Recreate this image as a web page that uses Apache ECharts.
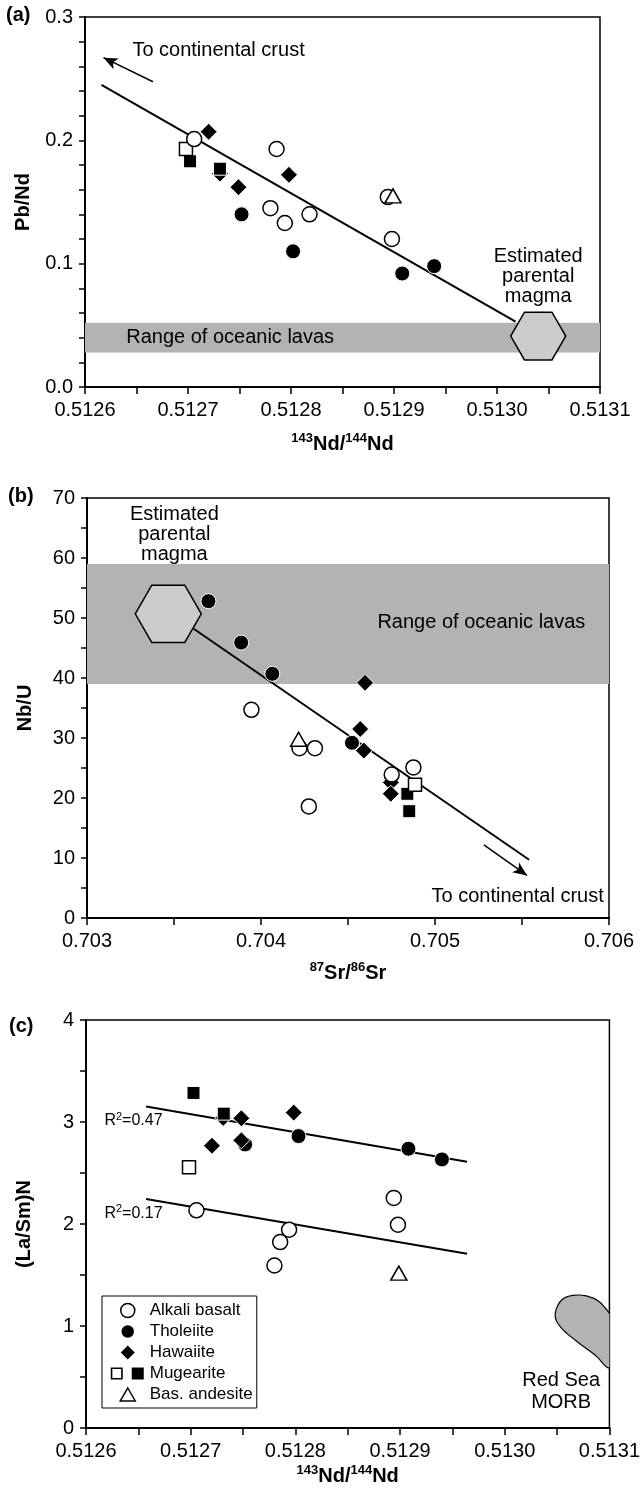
<!DOCTYPE html>
<html>
<head>
<meta charset="utf-8">
<script src="https://cdn.jsdelivr.net/npm/echarts@6/dist/echarts.min.js"></script>
<style>
  html, body { margin: 0; padding: 0; background: #fff; }
  #chart { width: 643px; height: 1497px; }
</style>
</head>
<body>
<div id="chart"></div>
<script>
// (a) Pb/Nd vs 143Nd/144Nd
const aAlkali = [[0.512706, 0.201], [0.512786, 0.193], [0.512780, 0.145], [0.512794, 0.133], [0.512818, 0.140], [0.512894, 0.154], [0.512898, 0.120]];
const aTholeiite = [[0.512752, 0.140], [0.512802, 0.110], [0.512908, 0.092], [0.512939, 0.098]];
const aHawaiite = [[0.512720, 0.207], [0.512798, 0.172], [0.512749, 0.162], [0.512731, 0.173]];
const aMugOpen = [[0.512698, 0.193]];
const aMugFilled = [[0.512702, 0.183], [0.512731, 0.177]];
const aBasAndesite = [[0.512899, 0.155]];
const aTrend = [[0.512616, 0.245], [0.513018, 0.053]];
const aArrow = [[0.512666, 0.2475], [0.512618, 0.267]];
const aBand = [0.028, 0.052];
const aParent = [[0.51304, 0.0413]];

// (b) Nb/U vs 87Sr/86Sr
const bAlkali = [[0.703945, 34.7], [0.704221, 28.3], [0.704310, 28.3], [0.704275, 18.6], [0.704751, 23.9], [0.704876, 25.1]];
const bTholeiite = [[0.703698, 52.8], [0.703886, 45.9], [0.704065, 40.7], [0.704523, 29.2]];
const bHawaiite = [[0.704598, 39.2], [0.704570, 31.5], [0.704591, 27.9], [0.704746, 22.6], [0.704746, 20.7]];
const bMugOpen = [[0.704885, 22.2]];
const bMugFilled = [[0.704841, 20.7], [0.704852, 17.8]];
const bBasAndesite = [[0.704216, 29.8]];
const bTrend = [[0.703613, 48.2], [0.705541, 9.7]];
const bArrow = [[0.705281, 12.2], [0.705529, 7.1]];
const bBand = [39, 59];
const bParent = [[0.703467, 50.7]];

// (c) (La/Sm)N vs 143Nd/144Nd
const cAlkali = [[0.5127055, 2.134], [0.512794, 1.944], [0.5127855, 1.823], [0.512780, 1.593], [0.512894, 2.256], [0.512898, 1.993]];
const cTholeiite = [[0.512752, 2.78], [0.512803, 2.862], [0.512908, 2.738], [0.51294, 2.633]];
const cHawaiite = [[0.512731, 3.04], [0.5127484, 3.036], [0.5127984, 3.092], [0.5127203, 2.767], [0.5127484, 2.82]];
const cMugOpen = [[0.5126984, 2.557]];
const cMugFilled = [[0.5127027, 3.285], [0.5127316, 3.082]];
const cBasAndesite = [[0.5128988, 1.518]];
const cTrendHigh = [[0.5126574, 3.151], [0.512964, 2.610]];
const cTrendLow = [[0.5126574, 2.246], [0.512964, 1.708]];
const cMorb = [[0.51312, 0.85], [0.5131, 1.125], [0.51309, 1.24], [0.513078, 1.295], [0.513065, 1.30], [0.513055, 1.26],
  [0.513049, 1.16], [0.513049, 1.06], [0.513056, 0.96], [0.513070, 0.84], [0.513088, 0.70], [0.5131, 0.59]];

// annotation texts, anchored in data units
const aNotes = [
  { name: 'To continental crust', value: [0.512646, 0.273], align: 'left' },
  { name: 'Range of oceanic lavas', value: [0.51264, 0.0405], align: 'left' },
  { name: 'Estimated\nparental\nmagma', value: [0.51304, 0.090], align: 'center' }
];
const bNotes = [
  { name: 'Estimated\nparental\nmagma', value: [0.703502, 63.9], align: 'center' },
  { name: 'Range of oceanic lavas', value: [0.704669, 49.3], align: 'left' },
  { name: 'To continental crust', value: [0.70597, 3.6], align: 'right' }
];
const cNotes = [
  { name: 'R{sup|2}=0.47', value: [0.5126176, 3.01], align: 'left', small: true },
  { name: 'R{sup|2}=0.17', value: [0.5126176, 2.10], align: 'left', small: true },
  { name: 'Red Sea\nMORB', value: [0.5130539, 0.36], align: 'center', lh: 22 }
];

const FONT = 'Liberation Sans, Arial, Helvetica, sans-serif';
const chart = echarts.init(document.getElementById('chart'));

const grids = [
  { left: 85, top: 17, width: 515, height: 370 },
  { left: 87, top: 498, width: 522, height: 420 },
  { left: 86, top: 1020, width: 524, height: 408 }
];

const supRich = {
  b: { fontSize: 20, fontWeight: 'bold', fontFamily: FONT, color: '#000', lineHeight: 24 },
  s: { fontSize: 13, fontWeight: 'bold', fontFamily: FONT, color: '#000', lineHeight: 14, verticalAlign: 'top' }
};

function xAxis(gi, min, max, interval, dec, name, gap) {
  return {
    type: 'value', gridIndex: gi, min, max, interval,
    name, nameLocation: 'middle', nameGap: gap,
    nameTextStyle: { rich: supRich },
    axisLine: { onZero: false, lineStyle: { color: '#000', width: 2 } },
    axisTick: { length: 7, lineStyle: { width: 1.5 } },
    minorTick: { show: true, splitNumber: 2, length: 7, lineStyle: { color: '#000', width: 1.5 } },
    axisLabel: { color: '#000', fontSize: 20, fontFamily: FONT, margin: 13, formatter: v => v.toFixed(dec) },
    splitLine: { show: false }
  };
}
function yAxis(gi, min, max, interval, dec, minor, name) {
  return {
    type: 'value', gridIndex: gi, min, max, interval,
    name, nameLocation: 'middle', nameGap: 52, nameRotate: 90,
    nameTextStyle: { fontSize: 20, fontWeight: 'bold', fontFamily: FONT, color: '#000' },
    axisLine: { onZero: false, lineStyle: { color: '#000', width: 2 } },
    axisTick: { length: 6, lineStyle: { width: 1.5 } },
    minorTick: { show: true, splitNumber: minor, length: 6, lineStyle: { color: '#000', width: 1.5 } },
    axisLabel: { color: '#000', fontSize: 20, fontFamily: FONT, margin: 12, formatter: v => v.toFixed(dec) },
    splitLine: { show: false }
  };
}

function markers(name, data, gi, symbol, filled, z) {
  let size = 15;
  if (symbol === 'diamond') size = 17;
  if (symbol === 'rect') size = 13;
  if (symbol === 'triangle') size = [16, 14];
  return {
    type: 'scatter', name, data, xAxisIndex: gi, yAxisIndex: gi, symbol, symbolSize: size, z,
    itemStyle: filled
      ? { color: '#000', borderColor: '#fff', borderWidth: 1, opacity: 1 }
      : { color: '#fff', borderColor: '#000', borderWidth: 1.5, opacity: 1 },
    emphasis: { disabled: true }
  };
}

function rockSeries(gi, d) {
  return [
    markers('Tholeiite', d.tholeiite, gi, 'circle', true, 5),
    markers('Hawaiite', d.hawaiite, gi, 'diamond', true, 6),
    markers('Mugearite filled', d.mugFilled, gi, 'rect', true, 7),
    markers('Mugearite', d.mugOpen, gi, 'rect', false, 8),
    markers('Alkali basalt', d.alkali, gi, 'circle', false, 9),
    markers('Bas. andesite', d.basAnd, gi, 'triangle', false, 10)
  ];
}

function trend(gi, data, arrow) {
  const s = {
    type: 'line', data, xAxisIndex: gi, yAxisIndex: gi, symbol: 'none', z: 2,
    lineStyle: { color: '#000', width: 2 }, silent: true
  };
  if (arrow) {
    s.markLine = {
      silent: true, symbol: ['none', 'arrow'], symbolSize: [9, 14],
      lineStyle: { color: '#000', width: 1.5, type: 'solid' },
      label: { show: false },
      data: [[{ coord: arrow[0] }, { coord: arrow[1] }]]
    };
  }
  return s;
}

function band(gi, range) {
  return {
    type: 'line', data: [], xAxisIndex: gi, yAxisIndex: gi, z: 1, silent: true,
    markArea: { silent: true, itemStyle: { color: '#b3b3b3' }, data: [[{ yAxis: range[0] }, { yAxis: range[1] }]] }
  };
}

function hexagon(gi, data, radius) {
  return {
    type: 'custom', data, xAxisIndex: gi, yAxisIndex: gi, z: 4, silent: true,
    renderItem: (params, api) => {
      const c = api.coord([api.value(0), api.value(1)]);
      const pts = [];
      for (let i = 0; i < 6; i++) {
        const a = Math.PI / 3 * i;
        pts.push([c[0] + radius * Math.cos(a), c[1] + radius * Math.sin(a)]);
      }
      return { type: 'polygon', shape: { points: pts }, style: { fill: '#cccccc', stroke: '#000', lineWidth: 1.5 } };
    }
  };
}

function notes(gi, data) {
  return {
    type: 'scatter', xAxisIndex: gi, yAxisIndex: gi, symbolSize: 1, z: 12, silent: true,
    itemStyle: { color: 'rgba(0,0,0,0)', opacity: 1 },
    data: data.map(n => ({
      name: n.name, value: n.value,
      label: {
        align: n.align,
        fontSize: n.small ? 16 : 20,
        lineHeight: n.lh || 20
      }
    })),
    label: {
      show: true, position: 'inside', verticalAlign: 'middle', formatter: p => p.name,
      color: '#000', fontFamily: FONT,
      rich: { sup: { fontSize: 11, fontFamily: FONT, color: '#000', verticalAlign: 'top', lineHeight: 10 } }
    }
  };
}

const morbSeries = {
  type: 'custom', data: [0], xAxisIndex: 2, yAxisIndex: 2, z: 3, silent: true,
  renderItem: (params, api) => {
    const pts = cMorb.map(p => api.coord(p));
    const cs = params.coordSys;
    return {
      type: 'group',
      clipPath: { type: 'rect', shape: { x: cs.x, y: cs.y, width: cs.width, height: cs.height } },
      children: [{ type: 'polygon', shape: { points: pts, smooth: 0.3 }, style: { fill: '#b3b3b3', stroke: '#000', lineWidth: 1.2 } }]
    };
  }
};

// legend icons: the leading moves fix the icon box to 34x14 so the shapes keep their aspect
const iconMug = 'path://M0,0M34,14M0,1H12V13H0Z M1.6,2.6V11.4H10.4V2.6Z M21,1H33V13H21Z';
const iconDiamond = 'path://M0,0M34,14M17,-1L25,7L17,15L9,7Z';
const iconTriangle = 'path://M0,0M34,14M17,0.5L24.5,13.5L9.5,13.5Z';

const option = {
  animation: false,
  backgroundColor: '#fff',
  grid: grids.map(g => Object.assign({ show: true, borderColor: '#000', borderWidth: 1.5 }, g)),
  xAxis: [
    xAxis(0, 0.5126, 0.5131, 0.0001, 4, '{s|143}{b|Nd/}{s|144}{b|Nd}', 45),
    xAxis(1, 0.703, 0.706, 0.001, 3, '{s|87}{b|Sr/}{s|86}{b|Sr}', 43),
    xAxis(2, 0.5126, 0.5131, 0.0001, 4, '{s|143}{b|Nd/}{s|144}{b|Nd}', 36)
  ],
  yAxis: [
    yAxis(0, 0, 0.3, 0.1, 1, 5, 'Pb/Nd'),
    yAxis(1, 0, 70, 10, 0, 2, 'Nb/U'),
    yAxis(2, 0, 4, 1, 0, 2, '(La/Sm)N')
  ],
  legend: {
    orient: 'vertical', left: 102, top: 1296,
    padding: [6, 4, 5, 8], itemGap: 4, itemWidth: 34, itemHeight: 14,
    borderColor: '#000', borderWidth: 1, backgroundColor: '#fff',
    textStyle: { fontSize: 17, color: '#000', fontFamily: FONT, lineHeight: 17 },
    itemStyle: { borderWidth: 1.5 },
    selectedMode: false,
    data: [
      'Alkali basalt', 'Tholeiite',
      { name: 'Hawaiite', icon: iconDiamond, itemStyle: { color: '#000', borderWidth: 0 } },
      { name: 'Mugearite', icon: iconMug, itemStyle: { color: '#000', borderWidth: 0 } },
      { name: 'Bas. andesite', icon: iconTriangle }
    ]
  },
  graphic: [
    { type: 'text', left: 6, top: 5, style: { text: '(a)', font: 'bold 20px ' + FONT, fill: '#000' } },
    { type: 'text', left: 8, top: 486, style: { text: '(b)', font: 'bold 20px ' + FONT, fill: '#000' } },
    { type: 'text', left: 9, top: 1016, style: { text: '(c)', font: 'bold 20px ' + FONT, fill: '#000' } }
  ],
  series: [
    band(0, aBand),
    trend(0, aTrend, aArrow),
    hexagon(0, aParent, 27.5),
    ...rockSeries(0, { alkali: aAlkali, tholeiite: aTholeiite, hawaiite: aHawaiite, mugOpen: aMugOpen, mugFilled: aMugFilled, basAnd: aBasAndesite }),
    notes(0, aNotes),

    band(1, bBand),
    trend(1, bTrend, bArrow),
    hexagon(1, bParent, 33),
    ...rockSeries(1, { alkali: bAlkali, tholeiite: bTholeiite, hawaiite: bHawaiite, mugOpen: bMugOpen, mugFilled: bMugFilled, basAnd: bBasAndesite }),
    notes(1, bNotes),

    morbSeries,
    trend(2, cTrendHigh),
    trend(2, cTrendLow),
    ...rockSeries(2, { alkali: cAlkali, tholeiite: cTholeiite, hawaiite: cHawaiite, mugOpen: cMugOpen, mugFilled: cMugFilled, basAnd: cBasAndesite }),
    notes(2, cNotes)
  ]
};

chart.setOption(option);
</script>
</body>
</html>
